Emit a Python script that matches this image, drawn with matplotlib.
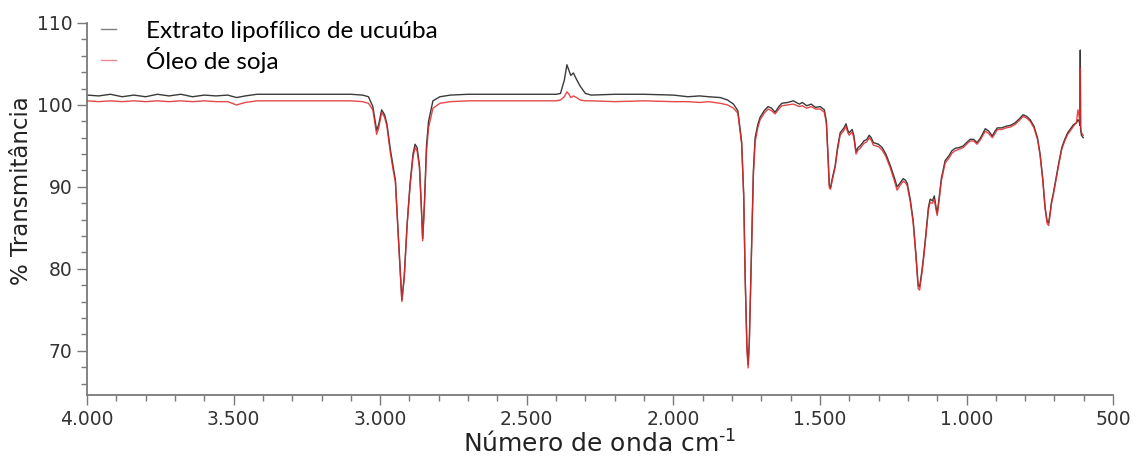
import matplotlib
matplotlib.use("Agg")
import matplotlib.pyplot as plt
from matplotlib.ticker import MultipleLocator, FuncFormatter

# FTIR spectra (wavenumber in cm-1, % transmittance)
numero_onda = [
    4000, 3960, 3920, 3880, 3840, 3800, 3760, 3720, 3680, 3640,
    3600, 3560, 3520, 3490, 3460, 3420, 3350, 3250, 3150, 3100,
    3060, 3040, 3025, 3012, 3005, 2995, 2985, 2977, 2965, 2955,
    2948, 2938, 2926, 2918, 2908, 2898, 2888, 2881, 2874, 2866,
    2860, 2855, 2849, 2842, 2835, 2820, 2796, 2760, 2700, 2600,
    2500, 2400, 2385, 2372, 2363, 2356, 2350, 2341, 2330, 2318,
    2300, 2280, 2200, 2100, 2000, 1950, 1910, 1880, 1840, 1815,
    1795, 1780, 1767, 1760, 1755, 1749, 1745, 1741, 1737, 1732,
    1727, 1721, 1712, 1704, 1690, 1677, 1665, 1653, 1640, 1630,
    1610, 1591, 1570, 1560, 1545, 1530, 1515, 1499, 1485, 1478,
    1472, 1468, 1464, 1458, 1448, 1440, 1431, 1418, 1411, 1405,
    1400, 1390, 1384, 1377, 1370, 1363, 1350, 1340, 1332, 1325,
    1318, 1300, 1288, 1275, 1260, 1245, 1237, 1228, 1216, 1208,
    1202, 1192, 1182, 1172, 1165, 1160, 1152, 1145, 1138, 1130,
    1124, 1116, 1110, 1104, 1100, 1094, 1086, 1073, 1060, 1050,
    1039, 1025, 1011, 1000, 988, 976, 964, 952, 936, 924,
    912, 903, 895, 880, 865, 851, 835, 820, 807, 795,
    783, 770, 758, 749, 740, 732, 725, 720, 715, 710,
    704, 695, 685, 675, 665, 655, 645, 635, 625, 620,
    616, 613, 612, 611, 608, 604, 602,
]

extrato_ucuuba = [
    101.2, 101.1, 101.3, 101.0, 101.2, 101.0, 101.3, 101.1, 101.3, 101.0,
    101.2, 101.1, 101.2, 100.9, 101.1, 101.3, 101.3, 101.3, 101.3, 101.3,
    101.2, 101.0, 99.8, 96.9, 97.6, 99.4, 98.8, 97.7, 94.5, 92.3,
    90.8, 84.0, 76.2, 79.0, 85.5, 90.4, 94.0, 95.2, 94.8, 92.6,
    88.0, 83.7, 88.0, 95.0, 98.0, 100.5, 101.0, 101.2, 101.3, 101.3,
    101.3, 101.3, 101.4, 103.0, 104.9, 104.2, 103.6, 103.9, 103.1, 102.3,
    101.4, 101.2, 101.3, 101.3, 101.2, 101.0, 101.1, 101.0, 100.9, 100.6,
    100.1, 99.3, 95.5, 89.0, 79.0, 70.5, 68.3, 71.0, 77.0, 85.0,
    92.0, 96.0, 97.6, 98.5, 99.3, 99.8, 99.6, 99.1, 99.8, 100.2,
    100.3, 100.5, 100.1, 100.3, 99.9, 100.1, 99.7, 99.8, 99.4, 98.0,
    93.5, 90.2, 89.9, 91.0, 92.6, 94.8, 96.6, 97.2, 97.7, 96.9,
    96.6, 97.0, 96.2, 94.3, 94.8, 95.0, 95.6, 95.8, 96.3, 96.0,
    95.4, 95.2, 94.8, 94.0, 92.6, 91.0, 90.0, 90.4, 91.0, 90.8,
    90.4, 88.5, 85.9, 81.5, 78.0, 77.8, 79.8, 82.0, 84.5, 87.5,
    88.5, 88.3, 88.9, 87.5, 86.8, 88.5, 91.0, 93.2, 93.8, 94.4,
    94.7, 94.8, 95.0, 95.4, 95.8, 95.8, 95.4, 96.0, 97.1, 96.8,
    96.2, 96.8, 97.2, 97.2, 97.4, 97.5, 97.8, 98.3, 98.8, 98.6,
    98.2, 97.4, 96.0, 94.0, 91.0, 87.5, 85.8, 85.6, 86.8, 88.2,
    89.2, 91.0, 93.0, 94.8, 95.8, 96.6, 97.1, 97.6, 97.8, 98.2,
    98.0, 97.5, 106.7, 97.0, 96.3, 96.1, 96.0,
]

oleo_soja = [
    100.5, 100.4, 100.5, 100.4, 100.5, 100.4, 100.5, 100.4, 100.5, 100.4,
    100.5, 100.4, 100.4, 100.0, 100.3, 100.5, 100.5, 100.5, 100.5, 100.5,
    100.4, 100.2, 99.4, 96.4, 97.2, 99.1, 98.5, 97.4, 94.1, 91.9,
    90.6, 83.8, 76.0, 78.8, 85.3, 90.1, 93.6, 94.8, 94.4, 92.3,
    87.8, 83.4, 87.7, 94.3, 97.2, 99.6, 100.2, 100.4, 100.5, 100.5,
    100.5, 100.5, 100.6, 101.0, 101.6, 101.3, 100.9, 101.1, 100.9, 100.6,
    100.5, 100.5, 100.4, 100.5, 100.4, 100.4, 100.3, 100.4, 100.2, 100.0,
    99.6, 99.0, 95.2, 88.8, 78.8, 70.2, 67.9, 70.7, 76.6, 84.5,
    91.4, 95.5, 97.2, 98.2, 99.0, 99.5, 99.3, 98.9, 99.5, 99.9,
    100.0, 100.1, 99.8, 99.9, 99.6, 99.8, 99.5, 99.5, 99.1, 97.7,
    93.2, 89.9, 89.7, 90.8, 92.4, 94.5, 96.3, 96.9, 97.4, 96.6,
    96.3, 96.7, 95.9, 94.0, 94.5, 94.7, 95.3, 95.5, 96.0, 95.7,
    95.1, 94.9, 94.5, 93.7, 92.3, 90.6, 89.6, 90.1, 90.7, 90.5,
    90.1, 88.2, 85.6, 81.2, 77.6, 77.4, 79.5, 81.7, 84.2, 87.2,
    88.1, 88.0, 88.5, 87.2, 86.5, 88.2, 90.7, 92.9, 93.5, 94.1,
    94.4, 94.6, 94.8, 95.2, 95.6, 95.6, 95.2, 95.8, 96.8, 96.5,
    96.0, 96.5, 97.0, 97.0, 97.2, 97.3, 97.6, 98.1, 98.6, 98.4,
    98.0, 97.2, 95.8, 93.8, 90.8, 87.3, 85.5, 85.3, 86.6, 88.0,
    89.0, 90.8, 92.8, 94.6, 95.6, 96.4, 96.9, 97.4, 97.9, 99.4,
    98.6, 98.0, 104.5, 97.5, 96.6, 96.4, 96.3,
]

legenda = ["Extrato lipofílico de ucuúba", "Óleo de soja"]

plt.rcParams['font.family'] = ['DejaVu Sans']

fig = plt.figure(figsize=(11.37, 4.58), dpi=100)
ax = fig.add_axes([0.0765, 0.1376, 0.9025, 0.8122])

l1, = ax.plot(numero_onda, extrato_ucuuba, color='#3a3a3a', lw=1.0, zorder=2)
l2, = ax.plot(numero_onda, oleo_soja, color='#e02828', lw=1.0, alpha=0.85, zorder=3)

ax.set_xlim(4000, 500)
ax.set_ylim(64.6, 110)

ax.xaxis.set_major_locator(MultipleLocator(500))
ax.xaxis.set_minor_locator(MultipleLocator(100))
ax.yaxis.set_major_locator(MultipleLocator(10))
ax.yaxis.set_minor_locator(MultipleLocator(2))
ax.xaxis.set_major_formatter(FuncFormatter(lambda v, p: f"{v:,.0f}".replace(",", ".")))

for side in ['top', 'right']:
    ax.spines[side].set_visible(False)
for side in ['left', 'bottom']:
    ax.spines[side].set_color('#7a7a7a')
    ax.spines[side].set_linewidth(1.3)

ax.tick_params(which='major', direction='out', length=7, width=1.0, color='#7a7a7a',
               labelsize=13.5, labelcolor='#333333')
ax.tick_params(which='minor', direction='out', length=4, width=1.0, color='#7a7a7a')

ax.set_xlabel(r"Número de onda cm$^{\text{-1}}$", fontsize=18, color='#222222', labelpad=1)
ax.set_ylabel("% Transmitância", fontsize=16.5, color='#222222')
ax.yaxis.set_label_coords(-0.0525, 0.55)

leg = ax.legend([l1, l2], legenda, loc='upper left', bbox_to_anchor=(-0.008, 1.065),
                frameon=False, handlelength=0.62, handletextpad=1.25, labelspacing=0.2,
                prop={'family': 'Lato', 'size': 17.5})
leg.get_lines()[0].set_color('#808080')
leg.get_lines()[1].set_color('#e87878')

fig.savefig("out.png", dpi=100)
